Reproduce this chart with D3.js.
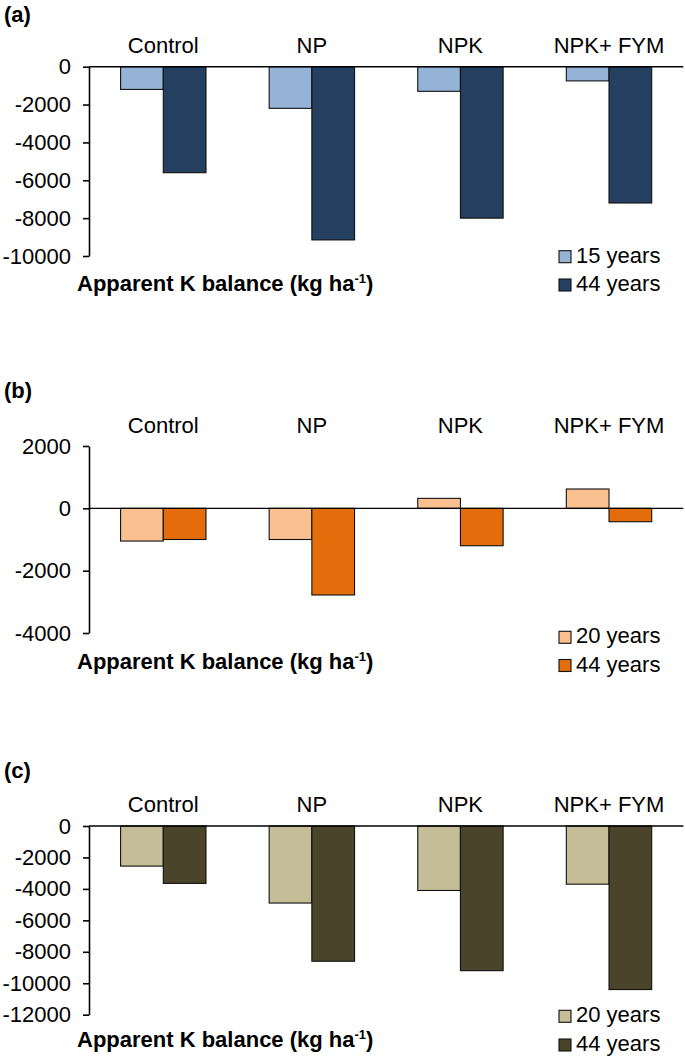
<!DOCTYPE html>
<html>
<head>
<meta charset="utf-8">
<script src="https://cdn.jsdelivr.net/npm/d3@7"></script>
<style>
  html, body { margin: 0; padding: 0; background: #fff; }
  svg { display: block; font-family: Arial, "Liberation Sans", sans-serif; }
</style>
</head>
<body>
<svg id="chart" width="685" height="1056"></svg>
<script>
// ---------------- data ----------------
const categories = ["Control", "NP", "NPK", "NPK+ FYM"];

const seriesNamesA = ["15 years", "44 years"];
const valuesA15 = [-1200, -2200, -1300, -750];
const valuesA44 = [-5600, -9150, -8000, -7200];
const ticksA = [0, -2000, -4000, -6000, -8000, -10000];

const seriesNamesB = ["20 years", "44 years"];
const valuesB20 = [-1050, -1000, 320, 620];
const valuesB44 = [-1000, -2780, -1200, -430];
const ticksB = [2000, 0, -2000, -4000];

const seriesNamesC = ["20 years", "44 years"];
const valuesC20 = [-2550, -4900, -4100, -3700];
const valuesC44 = [-3650, -8600, -9200, -10400];
const ticksC = [0, -2000, -4000, -6000, -8000, -10000, -12000];

const panelLabels = ["(a)", "(b)", "(c)"];
const axisTitle = "Apparent K balance (kg ha";

// ---------------- layout / style ----------------
const panels = [
  { label: panelLabels[0], names: seriesNamesA, series: [valuesA15, valuesA44], ticks: ticksA,
    colors: ["#95b3d7", "#243f60"], labelY: 21.7, catY: 53.3, yTop: 66.7, yBot: 256,
    titleY: 291, legY: [262.7, 291] },
  { label: panelLabels[1], names: seriesNamesB, series: [valuesB20, valuesB44], ticks: ticksB,
    colors: ["#fac090", "#e46c0a"], labelY: 397.7, catY: 433.3, yTop: 446, yBot: 633,
    titleY: 668.5, legY: [643.3, 671.5] },
  { label: panelLabels[2], names: seriesNamesC, series: [valuesC20, valuesC44], ticks: ticksC,
    colors: ["#c4bd97", "#4a452a"], labelY: 777.7, catY: 811.7, yTop: 826, yBot: 1014.7,
    titleY: 1046.5, legY: [1022.3, 1051] }
];

const axisX = 89, rightX = 683.3;
const FS = 22;

const svg = d3.select("#chart");

panels.forEach(p => {
  const g = svg.append("g");
  const y = d3.scaleLinear()
    .domain([d3.min(p.ticks), d3.max(p.ticks)])
    .range([p.yBot, p.yTop]);
  const x = d3.scaleBand().domain(categories).range([axisX, rightX]).padding(0);
  const xs = d3.scaleBand().domain(d3.range(p.series.length))
    .range([0, x.bandwidth()]).paddingInner(0).paddingOuter(0.74);

  // panel label
  g.append("text").attr("x", 4).attr("y", p.labelY)
    .attr("font-size", FS).attr("font-weight", "bold").attr("fill", "#000").text(p.label);

  // category labels
  g.selectAll("text.cat").data(categories).enter().append("text")
    .attr("class", "cat")
    .attr("x", d => x(d) + x.bandwidth() / 2)
    .attr("y", p.catY)
    .attr("text-anchor", "middle").attr("font-size", FS).attr("fill", "#000")
    .text(d => d);

  // bars
  p.series.forEach((vals, si) => {
    g.selectAll("rect.s" + si).data(vals).enter().append("rect")
      .attr("class", "s" + si)
      .attr("x", (d, i) => x(categories[i]) + xs(si))
      .attr("width", xs.bandwidth())
      .attr("y", d => y(Math.max(0, d)))
      .attr("height", d => Math.abs(y(d) - y(0)))
      .attr("fill", p.colors[si])
      .attr("stroke", "#111").attr("stroke-width", 1.1);
  });

  // zero line
  g.append("line")
    .attr("x1", axisX).attr("x2", rightX)
    .attr("y1", y(0)).attr("y2", y(0))
    .attr("stroke", "#000").attr("stroke-width", 1.4);

  // y axis
  const ax = g.append("g").attr("transform", `translate(${axisX},0)`)
    .call(d3.axisLeft(y).tickValues(p.ticks).tickSize(6).tickSizeOuter(0)
      .tickPadding(12).tickFormat(d => String(d)));
  ax.select(".domain").attr("stroke", "#000").attr("stroke-width", 1.6);
  ax.selectAll(".tick line").attr("stroke", "#000").attr("stroke-width", 1.6);
  ax.selectAll(".tick text").attr("font-size", FS).attr("fill", "#000")
    .attr("font-family", "Arial, 'Liberation Sans', sans-serif");

  // axis title
  const t = g.append("text").attr("x", 77).attr("y", p.titleY)
    .attr("font-size", FS).attr("font-weight", "bold").attr("fill", "#000");
  t.append("tspan").text(axisTitle);
  t.append("tspan").attr("font-size", 13).attr("dy", -8).text("-1");
  t.append("tspan").attr("dy", 8).text(")");

  // legend
  p.names.forEach((n, i) => {
    g.append("rect").attr("x", 559).attr("y", p.legY[i] - 12)
      .attr("width", 12).attr("height", 12)
      .attr("fill", p.colors[i]).attr("stroke", "#111").attr("stroke-width", 1.1);
    g.append("text").attr("x", 576).attr("y", p.legY[i])
      .attr("font-size", FS).attr("fill", "#000").text(n);
  });
});
</script>
</body>
</html>
